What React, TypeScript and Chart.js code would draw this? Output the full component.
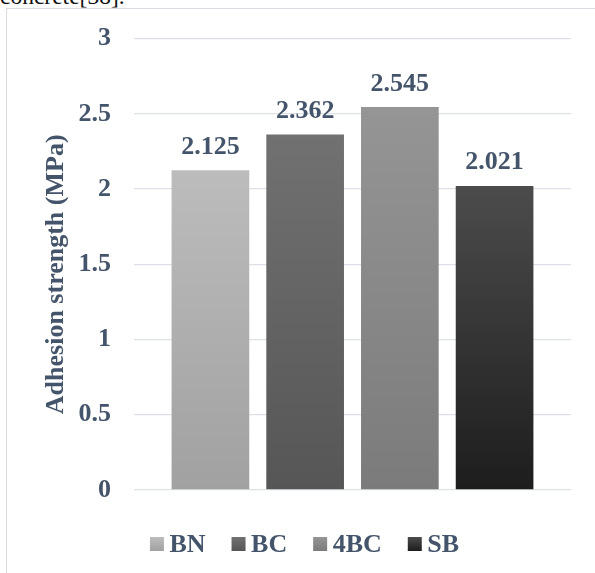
import React, { useEffect, useRef } from "react";
import { Chart, registerables } from "chart.js";

Chart.register(...registerables);

// Series names and measured adhesion strengths (MPa)
const seriesNames = ["BN", "BC", "4BC", "SB"];
const seriesValues = [2.125, 2.362, 2.545, 2.021];
// Top / bottom shades of each bar's vertical gradient
const seriesTopColors = ["#bcbcbc", "#717171", "#959595", "#4c4c4c"];
const seriesBottomColors = ["#a1a1a1", "#565656", "#7b7b7b", "#1d1d1d"];
const yTicks = { min: 0, max: 3, step: 0.5 };
const yTitle = "Adhesion strength (MPa)";
const captionTail = "concrete[38].";

const TEXT = "#44546a";
const FONT = "'Liberation Serif', 'Times New Roman', serif";

const barGradient = (i: number) => (ctx: any) => {
  const chart = ctx.chart;
  if (!chart.chartArea || ctx.raw == null) return seriesTopColors[i];
  const y = chart.scales.y;
  const top = y.getPixelForValue(ctx.raw);
  const bottom = y.getPixelForValue(0);
  const g = chart.ctx.createLinearGradient(0, top, 0, bottom);
  g.addColorStop(0, seriesTopColors[i]);
  g.addColorStop(1, seriesBottomColors[i]);
  return g;
};

// Value labels above bars, rotated y title and bottom legend
const decorations = {
  id: "decorations",
  afterDatasetsDraw(chart: any) {
    const c = chart.ctx;
    c.save();
    c.font = `bold 26px ${FONT}`;
    c.fillStyle = TEXT;
    c.textAlign = "center";
    c.textBaseline = "alphabetic";
    chart.data.datasets.forEach((ds: any, i: number) => {
      const el = chart.getDatasetMeta(i).data[0];
      if (!el) return;
      c.fillText(ds.data[0].toFixed(3), el.x, el.y - 16.5);
    });
    c.restore();
  },
  afterDraw(chart: any) {
    const c = chart.ctx;
    const area = chart.chartArea;
    c.save();
    c.font = `bold 26px ${FONT}`;
    c.fillStyle = TEXT;

    // y axis title
    c.save();
    c.translate(56, (area.top + area.bottom) / 2 + 10);
    c.rotate(-Math.PI / 2);
    c.textAlign = "center";
    c.textBaseline = "middle";
    c.fillText(yTitle, 0, 0);
    c.restore();

    // legend
    const box = 14;
    const gapText = 5.5;
    const gapItem = 26;
    const widths = seriesNames.map((n) => c.measureText(n).width);
    const total =
      widths.reduce((a, b) => a + b, 0) +
      seriesNames.length * (box + gapText) +
      (seriesNames.length - 1) * gapItem;
    let x = 304.5 - total / 2;
    const baseline = 552;
    c.textAlign = "left";
    c.textBaseline = "alphabetic";
    seriesNames.forEach((name, i) => {
      const top = baseline - 15;
      const g = c.createLinearGradient(0, top, 0, top + box);
      g.addColorStop(0, seriesTopColors[i]);
      g.addColorStop(1, seriesBottomColors[i]);
      c.fillStyle = g;
      c.fillRect(x, top, box, box);
      x += box + gapText;
      c.fillStyle = TEXT;
      c.fillText(name, x, baseline);
      x += widths[i] + gapItem;
    });
    c.restore();
  },
};

export default function App() {
  const canvasRef = useRef<HTMLCanvasElement | null>(null);

  useEffect(() => {
    if (!canvasRef.current) return;
    const chart = new Chart(canvasRef.current, {
      type: "bar",
      data: {
        labels: [""],
        datasets: seriesNames.map((name, i) => ({
          label: name,
          data: [seriesValues[i]],
          backgroundColor: barGradient(i),
          borderWidth: 0,
          barPercentage: 0.82,
          categoryPercentage: 0.867,
        })),
      },
      options: {
        responsive: false,
        animation: false,
        devicePixelRatio: 1,
        layout: { padding: { top: 37, right: 24, bottom: 83, left: 0 } },
        plugins: {
          legend: { display: false },
          tooltip: { enabled: false },
        },
        scales: {
          x: { display: false },
          y: {
            min: yTicks.min,
            max: yTicks.max,
            afterFit(scale: any) {
              scale.width = 134;
            },
            border: { display: false },
            grid: { color: "#dde1e6", lineWidth: 1.3, drawTicks: false },
            ticks: {
              stepSize: yTicks.step,
              padding: 23,
              color: TEXT,
              font: { family: FONT, size: 26, weight: "bold" },
              callback: (v: any) => String(Number(v)),
            },
          },
        },
      },
      plugins: [decorations],
    });
    return () => chart.destroy();
  }, []);

  return (
    <div
      style={{
        position: "fixed",
        left: 0,
        top: 0,
        width: 595,
        height: 573,
        overflow: "hidden",
        background: "#ffffff",
      }}
    >
      <div
        style={{
          position: "absolute",
          left: 0,
          top: -15,
          fontFamily: FONT,
          fontSize: 23.5,
          lineHeight: "23.5px",
          color: "#111111",
          whiteSpace: "nowrap",
        }}
      >
        {captionTail}
      </div>
      <div
        style={{
          position: "absolute",
          left: 6,
          top: 8,
          width: 620,
          height: 600,
          borderLeft: "1.3px solid #d9dde3",
          borderTop: "1.3px solid #d9dde3",
        }}
      />
      <canvas
        ref={canvasRef}
        width={595}
        height={573}
        style={{ position: "absolute", left: 0, top: 0 }}
      />
    </div>
  );
}
